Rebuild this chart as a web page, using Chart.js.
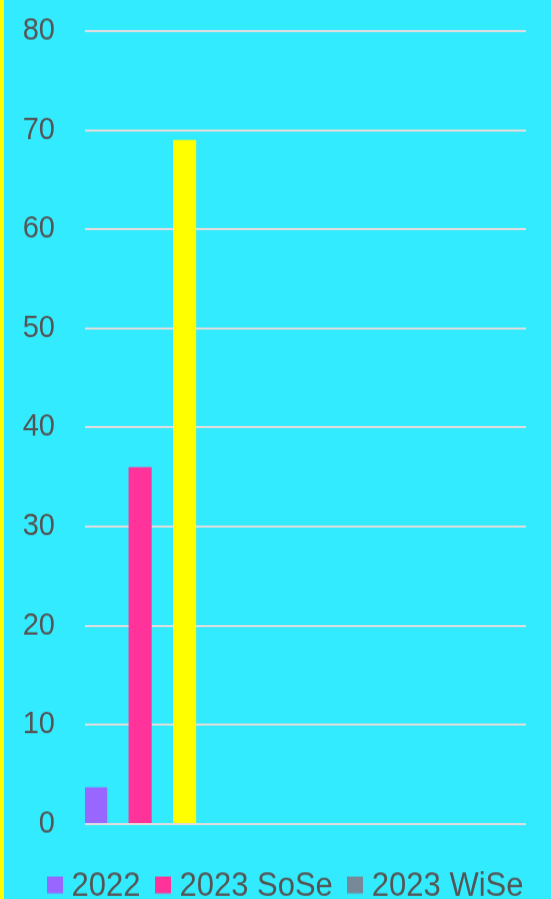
<!DOCTYPE html>
<html>
<head>
<meta charset="utf-8">
<script src="https://cdn.jsdelivr.net/npm/chart.js@4.4.0/dist/chart.umd.min.js"></script>
<style>
  html, body { margin: 0; padding: 0; background: #33ebff; overflow: hidden; }
  #outer { width: 547px; height: 899px; border-left: 4px solid #ffff00; background: #33ebff; overflow: hidden; }
  /* the reference is slightly stretched vertically */
  #wrap { width: 547px; height: 840px; transform: scaleY(1.070238); transform-origin: 0 0; }
  canvas { display: block; }
</style>
</head>
<body>
<div id="outer"><div id="wrap"><canvas id="graph" width="547" height="840"></canvas></div></div>
<script>
// x categories (only the first one carries values)
var labels = ['', '', '', ''];
var seriesNames = ['2022', '2023 SoSe', '2023 WiSe'];
var values2022 = [3.7];
var valuesSoSe = [36];
var valuesWiSe = [69];
var yTicks = [0, 10, 20, 30, 40, 50, 60, 70, 80];

var barColors = ['#9966ff', '#ff3399', '#ffff00'];
var legendColors = ['#9966ff', '#ff3399', '#778899'];

function legendSquare(color) {
  var c = document.createElement('canvas');
  c.width = 16;
  c.height = 18;
  var g = c.getContext('2d');
  g.fillStyle = color;
  g.fillRect(0, 0, 16, 15.5);
  return c;
}

var data = {
  labels: labels,
  datasets: [
    { label: seriesNames[0], backgroundColor: barColors[0], data: values2022 },
    { label: seriesNames[1], backgroundColor: barColors[1], data: valuesSoSe },
    { label: seriesNames[2], backgroundColor: barColors[2], data: valuesWiSe }
  ]
};

var context = document.getElementById('graph').getContext('2d');
const chart = new Chart(context, {
  type: 'bar',
  data: data,
  options: {
    responsive: false,
    animation: false,
    devicePixelRatio: 1,
    categoryPercentage: 1.21,
    barPercentage: 0.52,
    layout: { padding: { top: 29, right: 6, left: 0, bottom: -13.7 } },
    scales: {
      x: {
        display: true,
        grid: { display: false },
        border: { display: false },
        ticks: { display: false },
        afterFit: function (axis) { axis.height = 21.3; }
      },
      y: {
        min: 0,
        max: 80,
        afterBuildTicks: function (axis) {
          axis.ticks = yTicks.map(function (v) { return { value: v }; });
        },
        afterFit: function (axis) {
          axis.width = 81;
          axis.paddingTop = 0;
          axis.paddingBottom = 0;
        },
        border: { display: false },
        grid: { color: '#dddddd', lineWidth: 2, drawTicks: false },
        ticks: {
          color: '#555555',
          padding: 30,
          font: { family: 'Liberation Sans, Arial, sans-serif', size: 29 }
        }
      },
      y2: {
        type: 'linear',
        position: 'right',
        display: true,
        grid: { display: false },
        border: { display: false },
        ticks: { display: false },
        afterFit: function (axis) {
          axis.width = 19;
          axis.paddingTop = 0;
          axis.paddingBottom = 0;
        }
      }
    },
    plugins: {
      tooltip: { enabled: false },
      legend: {
        position: 'bottom',
        align: 'end',
        labels: {
          color: '#555555',
          usePointStyle: true,
          pointStyleWidth: 2,
          boxHeight: 16,
          padding: 21.5,
          font: { family: 'Liberation Sans, Arial, sans-serif', size: 31 },
          generateLabels: function (ch) {
            return ch.data.datasets.map(function (ds, i) {
              return {
                text: ds.label,
                fillStyle: legendColors[i],
                strokeStyle: legendColors[i],
                lineWidth: 0,
                pointStyle: legendSquare(legendColors[i]),
                fontColor: '#555555',
                datasetIndex: i,
                hidden: false
              };
            });
          }
        }
      }
    }
  }
});
</script>
</body>
</html>
